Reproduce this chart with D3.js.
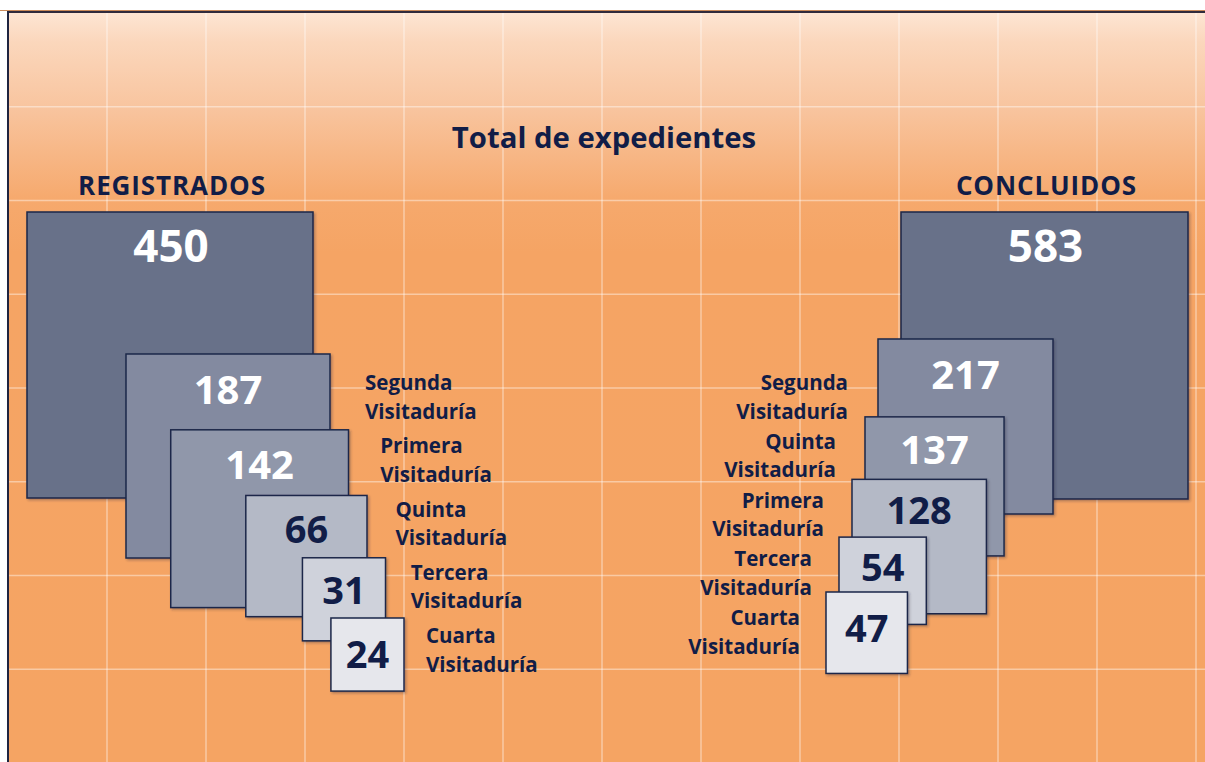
<!DOCTYPE html>
<html>
<head>
<meta charset="utf-8">
<script src="https://cdn.jsdelivr.net/npm/d3@7"></script>
<style>
  html, body { margin: 0; padding: 0; background: #ffffff; }
  svg { display: block; }
  text { font-family: "Open Sans", "Noto Sans", sans-serif; font-weight: 700; }
</style>
</head>
<body>
<svg id="chart" width="1205" height="762"></svg>
<script>
// ---------------- data ----------------
const chartTitle = "Total de expedientes";
const groupNames = ["REGISTRADOS", "CONCLUIDOS"];
const totals = [450, 583];
const registradosCategories = ["Segunda", "Primera", "Quinta", "Tercera", "Cuarta"];
const registradosValues = [187, 142, 66, 31, 24];
const concluidosCategories = ["Segunda", "Quinta", "Primera", "Tercera", "Cuarta"];
const concluidosValues = [217, 137, 128, 54, 47];
const labelSecondLine = "Visitaduría";

// ---------------- styles ----------------
const navy = "#111d47";
const stroke = "#1c2749";
const bigFill = "#687189";
const rankFills = ["#838aa0", "#9097aa", "#b4b9c6", "#cfd2db", "#e6e7ec"];
const rankTextColors = ["#ffffff", "#ffffff", navy, navy, navy];
const rankFontSizes = [40, 40, 38, 38, 38];

const W = 1205, H = 762;
const svg = d3.select("#chart");

// background gradient
const defs = svg.append("defs");
const grad = defs.append("linearGradient").attr("id", "bg")
  .attr("gradientUnits", "userSpaceOnUse")
  .attr("x1", 0).attr("y1", 12).attr("x2", 0).attr("y2", 762);
[[0, "#fde6d4"], [0.04, "#fbd7bc"], [0.13, "#f8c49e"], [0.25, "#f6a96d"], [0.32, "#f5a464"], [1, "#f5a463"]]
  .forEach(([o, c]) => grad.append("stop").attr("offset", o).attr("stop-color", c));

const shadow = defs.append("filter").attr("id", "sh").attr("x", "-5%").attr("y", "-5%").attr("width", "115%").attr("height", "115%");
shadow.append("feDropShadow").attr("dx", 1.5).attr("dy", 1.5).attr("stdDeviation", 0.8)
  .attr("flood-color", "#2a2a3a").attr("flood-opacity", 0.35);

const frame = { x0: 8, y0: 12, x1: 1196, y1: 762 };
svg.append("rect").attr("x", frame.x0).attr("y", frame.y0)
  .attr("width", W - frame.x0).attr("height", H - frame.y0).attr("fill", "url(#bg)");

// grid via scales
const gx = d3.scaleLinear().domain([0, 12]).range([frame.x0, frame.x1]);
const gy = d3.scaleLinear().domain([0, 8]).range([frame.y0 + 1, frame.y1 + 1]);
const gridG = svg.append("g").attr("stroke", "#ffffff").attr("stroke-opacity", 0.42).attr("stroke-width", 1.5);
gridG.selectAll("line.v").data(d3.range(1, 13)).join("line").attr("class", "v")
  .attr("x1", d => gx(d)).attr("x2", d => gx(d)).attr("y1", frame.y0).attr("y2", H);
gridG.selectAll("line.h").data(d3.range(1, 8)).join("line").attr("class", "h")
  .attr("x1", frame.x0).attr("x2", W).attr("y1", d => gy(d)).attr("y2", d => gy(d));

// frame lines
svg.append("line").attr("x1", 0).attr("x2", W).attr("y1", 10.5).attr("y2", 10.5)
  .attr("stroke", "#c98a5a").attr("stroke-width", 1);
svg.append("line").attr("x1", frame.x0 - 1).attr("x2", W).attr("y1", 12).attr("y2", 12)
  .attr("stroke", "#2f2a3c").attr("stroke-width", 2);
svg.append("line").attr("x1", frame.x0).attr("x2", frame.x0).attr("y1", 11).attr("y2", H)
  .attr("stroke", "#1f2440").attr("stroke-width", 2);

// title
svg.append("text").attr("x", 604).attr("y", 148).attr("text-anchor", "middle")
  .attr("font-size", 29.3).attr("fill", navy).text(chartTitle);

// ---------------- groups ----------------
const groups = [
  {
    name: groupNames[0], total: totals[0], cats: registradosCategories, vals: registradosValues,
    bigX: 27, bigTop: 212, bigSide: 286, maxSide: 204,
    topRange: [354, 618], topExp: 0.9,
    edgeRange: [330, 404], edgeIsRight: true,
    labelX: [365, 426], labelY: [390, 643], labelAnchor: "start"
  },
  {
    name: groupNames[1], total: totals[1], cats: concluidosCategories, vals: concluidosValues,
    bigX: 901, bigTop: 212, bigSide: 287, maxSide: 175,
    topRange: [339, 592], topExp: 0.85,
    edgeRange: [878, 826], edgeIsRight: false,
    labelX: [848, 800], labelY: [390, 625], labelAnchor: "end"
  }
];

groups.forEach(g => {
  const n = g.vals.length;
  const side = d3.scaleSqrt().domain([0, d3.max(g.vals)]).range([0, g.maxSide]);
  const topScale = d3.scalePow().exponent(g.topExp).domain([0, n - 1]).range(g.topRange);
  const edge = d3.scaleLinear().domain([0, n - 1]).range(g.edgeRange);
  const lx = d3.scaleLinear().domain([0, n - 1]).range(g.labelX);
  const ly = d3.scalePoint().domain(g.cats).range(g.labelY);

  const items = g.vals.map((v, i) => {
    const s = side(v);
    const top = topScale(i);
    const x = g.edgeIsRight ? edge(i) - s : edge(i);
    return { v, i, s, top, x, cat: g.cats[i] };
  });

  const gg = svg.append("g");

  // group heading
  gg.append("text").attr("x", g.bigX + g.bigSide / 2 + 2).attr("y", 195)
    .attr("text-anchor", "middle").attr("font-size", 26).attr("letter-spacing", 0.9)
    .attr("fill", navy).text(g.name);

  // total square
  gg.append("rect").attr("x", g.bigX).attr("y", g.bigTop)
    .attr("width", g.bigSide).attr("height", g.bigSide)
    .attr("fill", bigFill).attr("stroke", stroke).attr("stroke-width", 1.5)
    .attr("filter", "url(#sh)");
  {
    const visBottom = items[0].top;
    const base = Math.min((g.bigTop + visBottom) / 2 + 16, g.bigTop + 50);
    gg.append("text").attr("x", g.bigX + g.bigSide / 2 + 1).attr("y", base)
      .attr("text-anchor", "middle").attr("font-size", 44).attr("fill", "#ffffff").text(g.total);
  }

  // breakdown squares
  gg.selectAll("rect.b").data(items).join("rect").attr("class", "b")
    .attr("x", d => d.x).attr("y", d => d.top)
    .attr("width", d => d.s).attr("height", d => d.s)
    .attr("fill", d => rankFills[d.i]).attr("stroke", stroke).attr("stroke-width", 1.5)
    .attr("filter", "url(#sh)");

  // numbers (drawn after all squares, each kept in its visible band)
  items.forEach(d => {
    const visBottom = d.i < n - 1 ? items[d.i + 1].top : d.top + d.s;
    const base = Math.min((d.top + visBottom) / 2 + 16, d.top + 50);
    gg.append("text").attr("x", d.x + d.s / 2).attr("y", base)
      .attr("text-anchor", "middle").attr("font-size", rankFontSizes[d.i])
      .attr("fill", rankTextColors[d.i]).text(d.v);
  });

  // labels
  items.forEach(d => {
    const t = gg.append("text").attr("text-anchor", g.labelAnchor)
      .attr("font-size", 20.5).attr("fill", navy);
    t.append("tspan").attr("x", lx(d.i)).attr("y", ly(d.cat)).text(d.cat);
    t.append("tspan").attr("x", lx(d.i)).attr("y", ly(d.cat) + 28.5).text(labelSecondLine);
  });
});
</script>
</body>
</html>
